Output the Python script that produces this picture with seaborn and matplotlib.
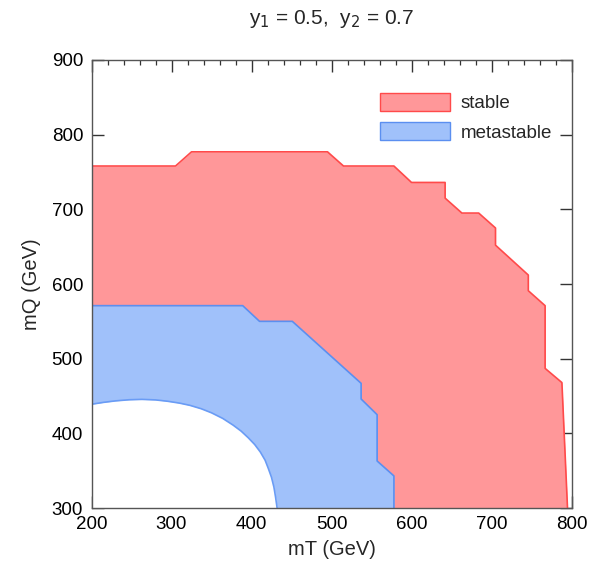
import numpy as np
import pandas as pd
import matplotlib
matplotlib.use("Agg")
import matplotlib.pyplot as plt
import seaborn as sns
from matplotlib.ticker import MultipleLocator
from matplotlib.patches import Patch

# stable region boundary (upper edge)
stable_mT = [200, 305, 325, 495, 515, 578, 600, 642, 642, 663, 684, 705, 705, 746, 746, 767, 767, 788, 795]
stable_mQ = [758, 758, 777, 777, 758, 758, 736, 736, 715, 695, 695, 675, 652, 612, 591, 571, 487, 468, 300]

# metastable region boundary (upper edge)
meta_mT = [200, 389, 410, 451, 537, 537, 557, 557, 578, 578]
meta_mQ = [571, 571, 550, 550, 467, 446, 425, 363, 343, 300]

# inner (unstable) curve
inner_mT = [200, 215, 230, 247, 263, 280, 295, 310, 323, 337, 350, 364, 377, 387, 396,
            404, 411, 417, 421, 425, 428, 430, 432]
inner_mQ = [439, 441.5, 443.5, 445, 445.5, 444.8, 443, 440.5, 437.5, 433, 427.5, 420, 411,
            403, 394, 385, 375, 364, 353, 341, 328, 315, 300]

red_fill, red_edge = "#ff9799", "#ff4a4a"
blue_fill, blue_edge = "#a0c1fa", "#5b8ff0"

sns.set_style("ticks")
plt.rcParams['font.family'] = ['Liberation Sans', 'DejaVu Sans']

fig = plt.figure(figsize=(5.99, 5.88), dpi=100)
ax = fig.add_axes([0.1528, 0.136, 0.8013, 0.762])

line_kw = dict(sort=False, estimator=None, errorbar=None, lw=1.2, ax=ax)

ax.fill_between(stable_mT, 300, stable_mQ, color=red_fill, lw=0, zorder=1)
sns.lineplot(x=stable_mT, y=stable_mQ, color=red_edge, zorder=2, **line_kw)

ax.fill_between(meta_mT, 300, meta_mQ, color=blue_fill, lw=0, zorder=3)
sns.lineplot(x=meta_mT, y=meta_mQ, color=blue_edge, zorder=4, **line_kw)

ax.fill_between(inner_mT, 300, inner_mQ, color="white", lw=0, zorder=5)
sns.lineplot(x=inner_mT, y=inner_mQ, color="#6a9cf5", zorder=6, **line_kw)

ax.set_xlim(200, 800)
ax.set_ylim(300, 900)
ax.xaxis.set_major_locator(MultipleLocator(100))
ax.xaxis.set_minor_locator(MultipleLocator(20))
ax.yaxis.set_major_locator(MultipleLocator(100))
ax.tick_params(which="both", direction="in", top=True, right=True, colors="#333333", labelcolor="black", labelsize=13.5)
ax.tick_params(which="major", length=8.4, width=1.0, pad=6)
ax.tick_params(which="minor", length=3.6, width=0.9)
for s in ax.spines.values():
    s.set_color("#555555")
    s.set_linewidth(1.0)
    s.set_zorder(10)

ax.set_xlabel("mT (GeV)", fontsize=14.5, labelpad=5)
ax.set_ylabel("mQ (GeV)", fontsize=14.5, labelpad=8)
ax.set_title("y$_1$ = 0.5,  y$_2$ = 0.7", fontsize=15, pad=26)

handles = [Patch(facecolor=red_fill, edgecolor=red_edge, label="stable"),
           Patch(facecolor=blue_fill, edgecolor=blue_edge, label="metastable")]
leg = ax.legend(handles=handles, loc="upper right", frameon=False, fontsize=13.5,
                handlelength=3.7, handleheight=1.1, handletextpad=0.6,
                bbox_to_anchor=(0.995, 0.965), labelspacing=0.55)
leg.set_zorder(20)

fig.savefig("out.png", dpi=100)
